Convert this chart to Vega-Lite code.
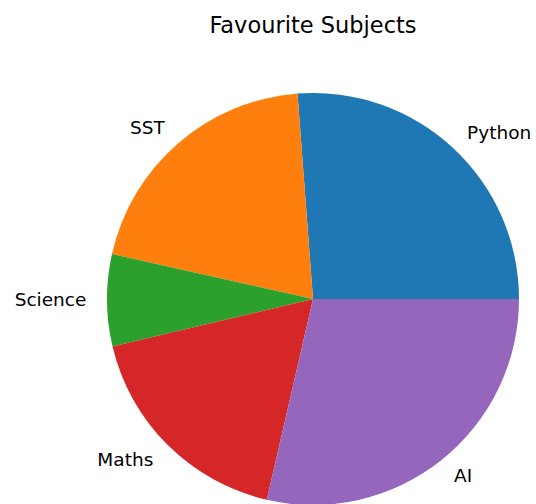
{
  "$schema": "https://vega.github.io/schema/vega-lite/v6.json",
  "autosize": {"type": "none"},
  "width": 412,
  "height": 408,
  "padding": {"left": 107, "top": 95, "right": 17, "bottom": 1},
  "background": "white",
  "title": {
    "text": "Favourite Subjects",
    "font": "DejaVu Sans",
    "fontSize": 22.5,
    "fontWeight": "normal",
    "color": "#000000",
    "anchor": "middle",
    "baseline": "alphabetic",
    "offset": 38
  },
  "view": {"stroke": null},
  "data": {
    "values": [
      {"subject": "Python", "share": 26.2, "idx": 1, "side": "right"},
      {"subject": "SST", "share": 20.3, "idx": 2, "side": "left"},
      {"subject": "Science", "share": 7.2, "idx": 3, "side": "left"},
      {"subject": "Maths", "share": 17.7, "idx": 4, "side": "left"},
      {"subject": "AI", "share": 28.6, "idx": 5, "side": "right"}
    ]
  },
  "encoding": {
    "theta": {"field": "share", "type": "quantitative", "stack": true, "scale": {"range": [1.5707963, -4.712389]}},
    "order": {"field": "idx", "type": "quantitative"}
  },
  "layer": [
    {
      "mark": {"type": "arc", "outerRadius": 206, "stroke": null},
      "encoding": {
        "color": {
          "field": "subject",
          "type": "nominal",
          "scale": {
            "domain": ["Python", "SST", "Science", "Maths", "AI"],
            "range": ["#1f77b4", "#ff7f0e", "#2ca02c", "#d62728", "#9467bd"]
          },
          "legend": null
        }
      }
    },
    {
      "mark": {
        "type": "text",
        "radius": 226.6,
        "align": {"expr": "datum.side === 'right' ? 'left' : 'right'"},
        "baseline": "middle",
        "font": "DejaVu Sans",
        "fontSize": 18.5,
        "color": "#000000"
      },
      "encoding": {"text": {"field": "subject"}}
    }
  ]
}
